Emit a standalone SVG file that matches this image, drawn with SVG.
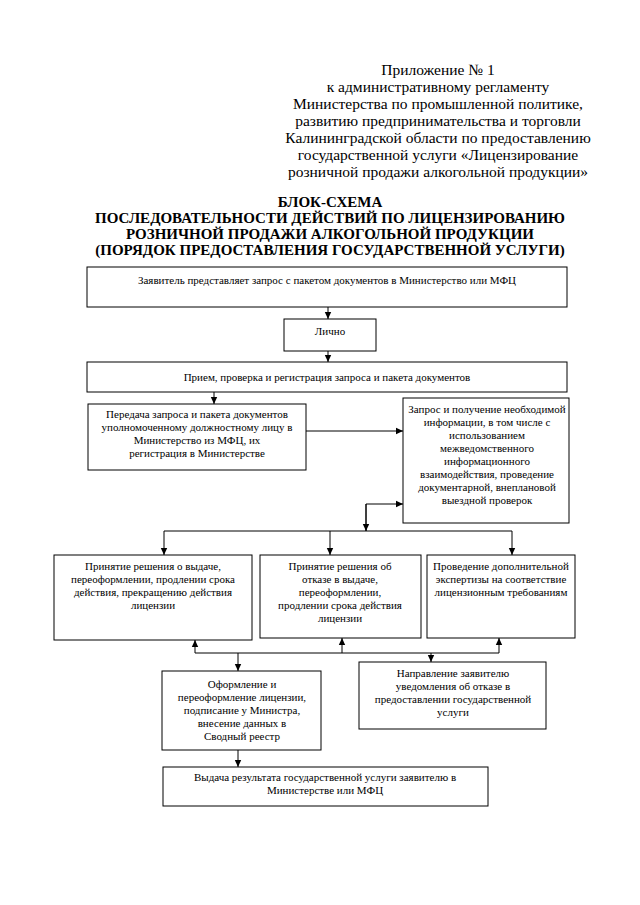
<svg xmlns="http://www.w3.org/2000/svg" width="640" height="905" viewBox="0 0 640 905">
<defs>
<marker id="ah" markerWidth="8" markerHeight="8" refX="7" refY="4" orient="auto" markerUnits="userSpaceOnUse">
<path d="M0,0.8 L7,4 L0,7.2 Z" fill="#000"/>
</marker>
<style>
.hd{font-family:"Liberation Serif","Times New Roman",serif;font-size:15.5px;fill:#000;text-anchor:middle}
.tt{font-family:"Liberation Serif","Times New Roman",serif;font-size:15px;font-weight:bold;fill:#000;text-anchor:middle}
.bx{fill:#fff;stroke:#000;stroke-width:1}
.t{font-family:"Liberation Serif","Times New Roman",serif;font-size:11px;fill:#000;text-anchor:middle}
.c{fill:none;stroke:#000;stroke-width:1}
.ca{fill:none;stroke:#000;stroke-width:1;marker-end:url(#ah)}
</style>
</defs>
<rect width="640" height="905" fill="#fff"/>
<g id="header">
<text class="hd" x="438" y="75">Приложение № 1</text>
<text class="hd" x="438" y="92">к административному регламенту</text>
<text class="hd" x="438" y="109">Министерства по промышленной политике,</text>
<text class="hd" x="438" y="126">развитию предпринимательства и торговли</text>
<text class="hd" x="438" y="143">Калининградской области по предоставлению</text>
<text class="hd" x="438" y="160">государственной услуги «Лицензирование</text>
<text class="hd" x="438" y="177">розничной продажи алкогольной продукции»</text>
</g>
<g id="title">
<text class="tt" x="330" y="207">БЛОК-СХЕМА</text>
<text class="tt" x="330" y="223">ПОСЛЕДОВАТЕЛЬНОСТИ ДЕЙСТВИЙ ПО ЛИЦЕНЗИРОВАНИЮ</text>
<text class="tt" x="330" y="239">РОЗНИЧНОЙ ПРОДАЖИ АЛКОГОЛЬНОЙ ПРОДУКЦИИ</text>
<text class="tt" x="330" y="255">(ПОРЯДОК ПРЕДОСТАВЛЕНИЯ ГОСУДАРСТВЕННОЙ УСЛУГИ)</text>
</g>
<g id="connectors">
<line class="ca" x1="328" y1="307" x2="328" y2="319"/>
<line class="ca" x1="328" y1="351" x2="328" y2="362"/>
<line class="ca" x1="214" y1="392" x2="214" y2="404"/>
<line class="ca" x1="306" y1="431" x2="403" y2="431"/>
<polyline class="ca" points="366,531 366,504 403,504"/>
<line class="ca" x1="366" y1="504" x2="366" y2="531"/>
<line class="c" x1="164" y1="531" x2="512" y2="531"/>
<line class="ca" x1="164" y1="531" x2="164" y2="555"/>
<line class="ca" x1="330" y1="531" x2="330" y2="555"/>
<line class="ca" x1="512" y1="531" x2="512" y2="555"/>
<line class="c" x1="195" y1="653" x2="499" y2="653"/>
<line class="ca" x1="195" y1="653" x2="195" y2="640"/>
<line class="ca" x1="342" y1="653" x2="342" y2="638"/>
<line class="ca" x1="499" y1="653" x2="499" y2="638"/>
<line class="ca" x1="238" y1="653" x2="238" y2="671"/>
<line class="ca" x1="431" y1="653" x2="431" y2="662"/>
<line class="ca" x1="238" y1="750" x2="238" y2="767"/>
</g>
<g id="n1">
<rect class="bx" x="87" y="267" width="480" height="40"/>
<text class="t" x="327" y="284">Заявитель представляет запрос с пакетом документов в Министерство или МФЦ</text>
</g>
<g id="n2">
<rect class="bx" x="284" y="319" width="92" height="32"/>
<text class="t" x="330" y="335">Лично</text>
</g>
<g id="n3">
<rect class="bx" x="87" y="362" width="480" height="30"/>
<text class="t" x="327" y="381">Прием,  проверка и регистрация запроса и пакета документов</text>
</g>
<g id="n4">
<rect class="bx" x="88" y="404" width="218" height="66"/>
<text class="t" x="197" y="418">Передача запроса и пакета документов</text>
<text class="t" x="197" y="431">уполномоченному должностному лицу в</text>
<text class="t" x="197" y="444">Министерство из МФЦ, их</text>
<text class="t" x="197" y="457">регистрация в Министерстве</text>
</g>
<g id="n5">
<rect class="bx" x="403" y="398" width="166" height="125"/>
<text class="t" x="487" y="413">Запрос и получение необходимой</text>
<text class="t" x="487" y="426">информации, в том числе с</text>
<text class="t" x="487" y="439">использованием</text>
<text class="t" x="487" y="452">межведомственного</text>
<text class="t" x="487" y="465">информационного</text>
<text class="t" x="487" y="478">взаимодействия, проведение</text>
<text class="t" x="487" y="491">документарной, внеплановой</text>
<text class="t" x="487" y="504">выездной проверок</text>
</g>
<g id="n6">
<rect class="bx" x="54" y="555" width="198" height="85"/>
<text class="t" x="153" y="570">Принятие решения о выдаче,</text>
<text class="t" x="153" y="583">переоформлении, продлении срока</text>
<text class="t" x="153" y="596">действия, прекращению действия</text>
<text class="t" x="153" y="609">лицензии</text>
</g>
<g id="n7">
<rect class="bx" x="260" y="555" width="161" height="83"/>
<text class="t" x="340" y="570">Принятие решения об</text>
<text class="t" x="340" y="583">отказе в выдаче,</text>
<text class="t" x="340" y="596">переоформлении,</text>
<text class="t" x="340" y="609">продлении срока действия</text>
<text class="t" x="340" y="622">лицензии</text>
</g>
<g id="n8">
<rect class="bx" x="427" y="555" width="148" height="83"/>
<text class="t" x="501" y="570">Проведение  дополнительной</text>
<text class="t" x="501" y="583">экспертизы на соответствие</text>
<text class="t" x="501" y="596">лицензионным требованиям</text>
</g>
<g id="n9">
<rect class="bx" x="162" y="671" width="159" height="79"/>
<text class="t" x="242" y="688">Оформление и</text>
<text class="t" x="242" y="701">переоформление лицензии,</text>
<text class="t" x="242" y="714">подписание у Министра,</text>
<text class="t" x="242" y="727">внесение данных в</text>
<text class="t" x="242" y="740">Сводный реестр</text>
</g>
<g id="n10">
<rect class="bx" x="359" y="662" width="187" height="67"/>
<text class="t" x="453" y="677">Направление заявителю</text>
<text class="t" x="453" y="690">уведомления об отказе в</text>
<text class="t" x="453" y="703">предоставлении  государственной</text>
<text class="t" x="453" y="716">услуги</text>
</g>
<g id="n11">
<rect class="bx" x="163" y="767" width="325" height="39"/>
<text class="t" x="325" y="781">Выдача результата государственной услуги заявителю  в</text>
<text class="t" x="325" y="794">Министерстве или МФЦ</text>
</g>
</svg>
